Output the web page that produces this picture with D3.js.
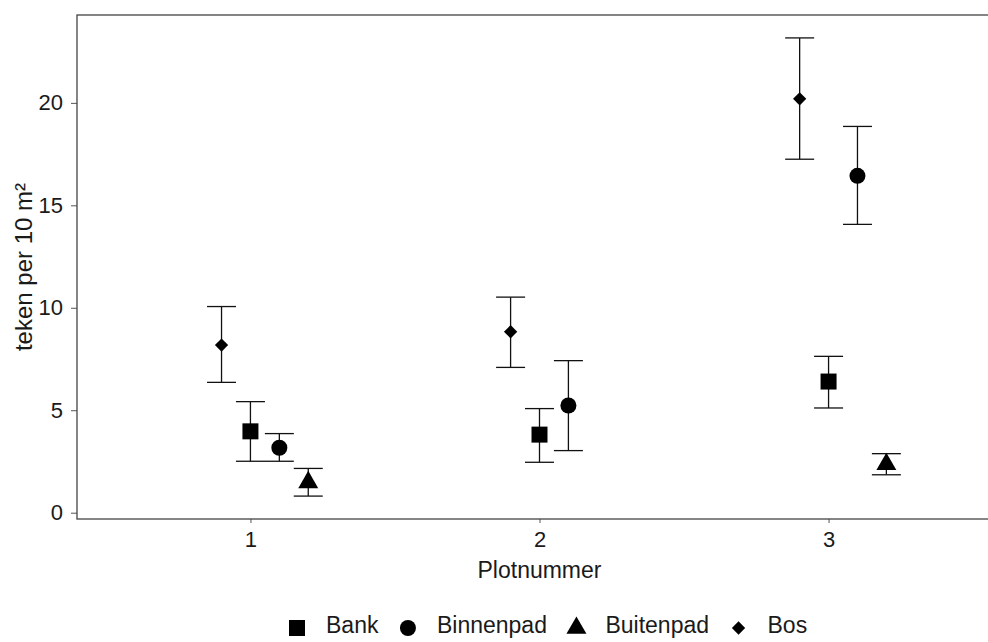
<!DOCTYPE html>
<html>
<head>
<meta charset="utf-8">
<script src="https://cdn.jsdelivr.net/npm/d3@7"></script>
<style>
  body { margin: 0; background: #fff; }
  text { font-family: "Liberation Sans", Arial, sans-serif; }
</style>
</head>
<body>
<div id="chart"></div>
<script>
// data: mean ticks per 10 m2 with interval, per plot and location
const plotnr     = [1, 1, 1, 1, 2, 2, 2, 3, 3, 3, 3];
const locatie    = ["Bos", "Bank", "Binnenpad", "Buitenpad", "Bos", "Bank", "Binnenpad", "Bos", "Bank", "Binnenpad", "Buitenpad"];
const gemiddelde = [8.18, 3.97, 3.17, 1.48, 8.83, 3.81, 5.23, 20.2, 6.4, 16.44, 2.36];
const ondergrens = [6.36, 2.51, 2.51, 0.81, 7.09, 2.46, 3.03, 17.25, 5.11, 14.07, 1.85];
const bovengrens = [10.06, 5.42, 3.86, 2.16, 10.52, 5.08, 7.42, 23.17, 7.63, 18.85, 2.88];

const groups = ["Bank", "Binnenpad", "Buitenpad", "Bos"];
const dodge = [0, 0.1, 0.2, -0.1];   // same order as groups
const plotTicks = [1, 2, 3];
const yTicks = [0, 5, 10, 15, 20];

const W = 988, H = 642;
const margin = { top: 15, left: 77, bottom: 123 };
const panelRight = 1002;   // panel runs past the right edge of the picture
const panelBottom = H - margin.bottom;

const svg = d3.select("#chart").append("svg")
    .attr("width", W)
    .attr("height", H);

svg.append("rect").attr("width", W).attr("height", H).attr("fill", "#fff");

const rows = plotnr.map((p, i) => ({
    plot: p,
    group: locatie[i],
    mean: gemiddelde[i],
    lo: ondergrens[i],
    hi: bovengrens[i]
}));

// discrete x with ggplot-like 0.6 expansion
const x = d3.scaleLinear()
    .domain([0.4, 3.6])
    .range([margin.left, panelRight]);

const yMin = d3.min(ondergrens), yMax = d3.max(bovengrens);
const pad = (yMax - yMin) * 0.05;
const y = d3.scaleLinear()
    .domain([yMin - pad, yMax + pad])
    .range([panelBottom, margin.top]);

const xPos = d => x(d.plot + dodge[groups.indexOf(d.group)]);

// shapes
const shapes = {
    Bank: d3.symbol().type(d3.symbolSquare).size(256),
    Binnenpad: d3.symbol().type(d3.symbolCircle).size(201),
    Buitenpad: d3.symbol().type(d3.symbolTriangle).size(173),
    Bos: d3.symbol().type(d3.symbolSquare).size(88)
};
const rot = g => g === "Bos" ? " rotate(45)" : "";

// axes
const yAxis = svg.append("g")
    .attr("transform", `translate(${margin.left},0)`)
    .call(d3.axisLeft(y).tickValues(yTicks).tickSize(6).tickPadding(8));
yAxis.select(".domain").remove();
yAxis.selectAll("line").attr("stroke", "#555");
yAxis.selectAll("text")
    .style("font-size", "22px")
    .attr("fill", "#1a1a1a");

const xAxis = svg.append("g")
    .attr("transform", `translate(0,${panelBottom})`)
    .call(d3.axisBottom(x).tickValues(plotTicks).tickFormat(d3.format("d")).tickSize(4).tickPadding(8));
xAxis.select(".domain").remove();
xAxis.selectAll("line").attr("stroke", "#555");
xAxis.selectAll("text")
    .style("font-size", "22px")
    .attr("fill", "#1a1a1a");

// panel border
svg.append("rect")
    .attr("x", margin.left)
    .attr("y", margin.top)
    .attr("width", panelRight - margin.left)
    .attr("height", panelBottom - margin.top)
    .attr("fill", "none")
    .attr("stroke", "#444")
    .attr("stroke-width", 1.3);

// error bars
const cap = 14.5;
const bars = svg.append("g")
    .attr("stroke", "#111")
    .attr("stroke-width", 1.3)
    .selectAll("g")
    .data(rows)
    .enter()
    .append("g");

bars.append("line")
    .attr("x1", xPos).attr("x2", xPos)
    .attr("y1", d => y(d.lo)).attr("y2", d => y(d.hi));
bars.append("line")
    .attr("x1", d => xPos(d) - cap).attr("x2", d => xPos(d) + cap)
    .attr("y1", d => y(d.hi)).attr("y2", d => y(d.hi));
bars.append("line")
    .attr("x1", d => xPos(d) - cap).attr("x2", d => xPos(d) + cap)
    .attr("y1", d => y(d.lo)).attr("y2", d => y(d.lo));

// points
svg.append("g")
    .selectAll("path")
    .data(rows)
    .enter()
    .append("path")
    .attr("transform", d => `translate(${xPos(d)},${y(d.mean)})${rot(d.group)}`)
    .attr("d", d => shapes[d.group]())
    .attr("fill", "#000");

// axis titles
svg.append("text")
    .attr("x", (margin.left + panelRight) / 2)
    .attr("y", 578)
    .attr("text-anchor", "middle")
    .style("font-size", "23px")
    .attr("fill", "#1a1a1a")
    .text("Plotnummer");

svg.append("text")
    .attr("transform", "rotate(-90)")
    .attr("x", -(margin.top + panelBottom) / 2)
    .attr("y", 32)
    .attr("text-anchor", "middle")
    .style("font-size", "24px")
    .attr("fill", "#1a1a1a")
    .text("teken per 10 m²");

// legend
const legend = svg.append("g").attr("transform", "translate(0,628)");
let cx = 297;
groups.forEach(g => {
    legend.append("path")
        .attr("transform", `translate(${cx},0)${rot(g)}`)
        .attr("d", shapes[g]())
        .attr("fill", "#000");
    const t = legend.append("text")
        .attr("x", cx + 29)
        .attr("y", 5)
        .style("font-size", "23px")
        .attr("fill", "#1a1a1a")
        .text(g);
    cx = cx + 29 + t.node().getComputedTextLength() + 29.5;
});
</script>
</body>
</html>
